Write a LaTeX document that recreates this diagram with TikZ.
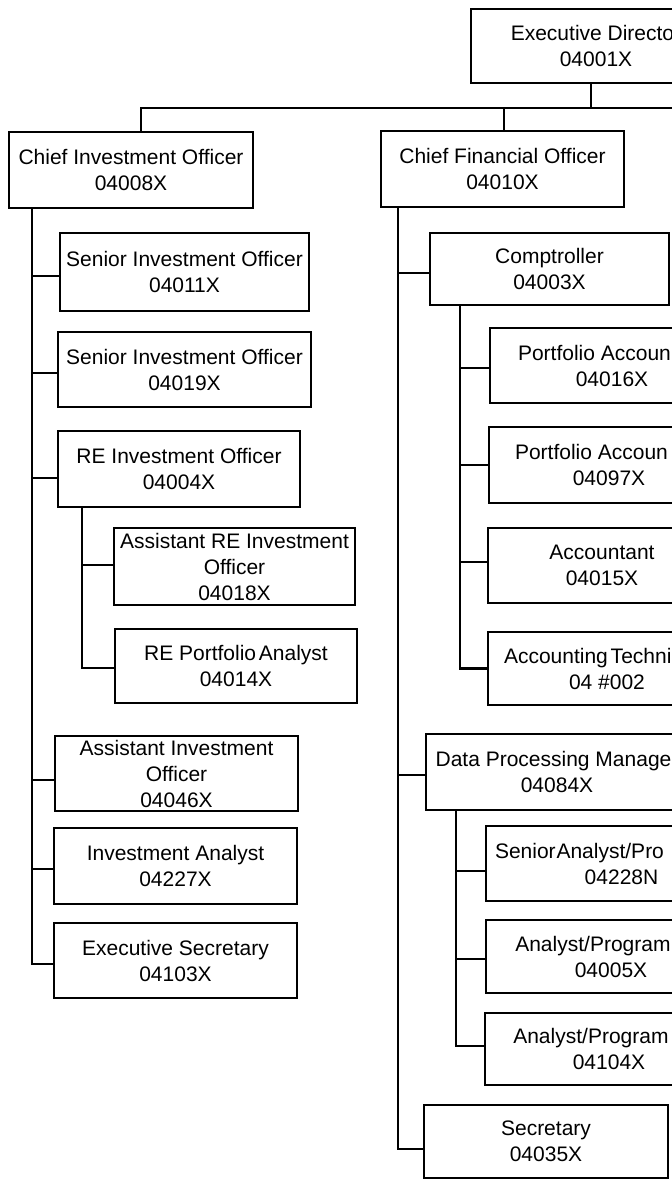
\documentclass[tikz,border=0pt]{standalone}
\usepackage{fontspec}
\setmainfont{Liberation Sans}
\usetikzlibrary{calc}
% visible part, hidden rest (keeps the centring of the full title), extra shift
\newcommand\trunctext[3]{#1\hphantom{#2}\hspace{#3pt}}
\begin{document}
\begin{tikzpicture}[x=1pt,y=-1pt,
  box/.style={draw, line width=2.3pt, inner sep=0pt, align=center,
    font=\fontsize{21}{26}\selectfont},
  conn/.style={line width=2.3pt, line cap=rect}]
\useasboundingbox (0,0) rectangle (672,1179);
\fill[white] (0,0) rectangle (672,1179);
\clip (0,0) rectangle (672,1179);

% top
\node[box, minimum width=250, minimum height=74] (exec) at (596,46) {\trunctext{Executive Directo}{r}{9}\\04001X};
\node[box, minimum width=244, minimum height=76] (cio) at (131,170) {Chief Investment Officer\\04008X};
\node[box, minimum width=243, minimum height=76] (cfo) at (502.5,169) {Chief Financial Officer\\04010X};

% CIO branch
\node[box, minimum width=249, minimum height=78] (sio1) at (184.5,272) {Senior Investment Officer\\04011X};
\node[box, minimum width=253, minimum height=75] (sio2) at (184.5,369.5) {Senior Investment Officer\\04019X};
\node[box, minimum width=242, minimum height=76] (reio) at (179,469) {RE Investment Officer\\04004X};
\node[box, minimum width=241, minimum height=77] (asre) at (234.5,566.5) {Assistant RE Investment\\Officer\\04018X};
\node[box, minimum width=242, minimum height=74] (rpa) at (236,666) {RE Portfolio\hspace{-3pt} Analyst\\04014X};
\node[box, minimum width=243, minimum height=75] (aio) at (176.5,773.5) {Assistant Investment\\Officer\\04046X};
\node[box, minimum width=243, minimum height=76] (ia) at (175.5,866) {Investment Analyst\\04227X};
\node[box, minimum width=243, minimum height=75] (es) at (175.5,960.5) {Executive Secretary\\04103X};

% CFO branch
\node[box, minimum width=239, minimum height=72] (comp) at (549.5,269) {Comptroller\\04003X};
\node[box, minimum width=244, minimum height=75] (pa1) at (612,365.5) {\trunctext{Portfolio Accoun}{tant}{28}\\04016X};
\node[box, minimum width=240, minimum height=76] (pa2) at (609,465) {\trunctext{Portfolio Accoun}{tant}{22}\\04097X};
\node[box, minimum width=228, minimum height=75] (acct) at (602,565.5) {Accountant\\04015X};
\node[box, minimum width=238, minimum height=73] (at) at (607,668.5) {\trunctext{Accounting\hspace{-3pt} Techni}{cian}{7}\\04 \#002};
\node[box, minimum width=262, minimum height=76] (dpm) at (557,772) {\trunctext{Data Processing Manage}{r}{4}\\04084X};
\node[box, minimum width=271, minimum height=75] (sap) at (621.5,863.5) {\trunctext{Senior\hspace{-5pt} Analyst/Pro}{grammer}{13}\\04228N};
\node[box, minimum width=250, minimum height=73] (ap1) at (611,956.5) {\trunctext{Analyst/Program}{mer}{3}\\04005X};
\node[box, minimum width=248, minimum height=72] (ap2) at (609,1049) {\trunctext{Analyst/Program}{mer}{0}\\04104X};
\node[box, minimum width=244, minimum height=73] (sec) at (546,1141.5) {Secretary\\04035X};

% trunk end points
\coordinate (barR) at (690,108);
\coordinate (cioT) at (32,964);
\coordinate (reT) at (82,668);
\coordinate (cfoT) at (398,1149);
\coordinate (compT) at (460,668);
\coordinate (dpmT) at (456,1046);

% top connectors
\draw[conn] ($(exec.south)+(-5,0)$) |- (barR);
\draw[conn] ($(cio.north)+(10,0)$) |- (barR);
\draw[conn] ($(cfo.north)+(1.5,0)$) |- (barR);

% CIO trunk
\draw[conn] (cioT |- cio.south) -- (cioT);
\draw[conn] ($(sio1.west)+(0,4)$) -| (cioT);
\draw[conn] ($(sio2.west)+(0,3.5)$) -| (cioT);
\draw[conn] ($(reio.west)+(0,9)$) -| (cioT);
\draw[conn] ($(aio.west)+(0,6.5)$) -| (cioT);
\draw[conn] ($(ia.west)+(0,3)$) -| (cioT);
\draw[conn] ($(es.west)+(0,3.5)$) -| (cioT);

% RE trunk
\draw[conn] (reT |- reio.south) -- (reT);
\draw[conn] ($(asre.west)+(0,-1.5)$) -| (reT);
\draw[conn] ($(rpa.west)+(0,2)$) -| (reT);

% CFO trunk
\draw[conn] (cfoT |- cfo.south) -- (cfoT);
\draw[conn] ($(comp.west)+(0,4)$) -| (cfoT);
\draw[conn] ($(dpm.west)+(0,3)$) -| (cfoT);
\draw[conn] ($(sec.west)+(0,7.5)$) -| (cfoT);

% Comptroller trunk
\draw[conn] (compT |- comp.south) -- (compT);
\draw[conn] ($(pa1.west)+(0,2.5)$) -| (compT);
\draw[conn] (pa2.west) -| (compT);
\draw[conn] ($(acct.west)+(0,-3.5)$) -| (compT);
\draw[conn] (at.west) -| (compT);

% DP trunk
\draw[conn] (dpmT |- dpm.south) -- (dpmT);
\draw[conn] ($(sap.west)+(0,7.5)$) -| (dpmT);
\draw[conn] ($(ap1.west)+(0,2.5)$) -| (dpmT);
\draw[conn] ($(ap2.west)+(0,-3)$) -| (dpmT);
\end{tikzpicture}
\end{document}
